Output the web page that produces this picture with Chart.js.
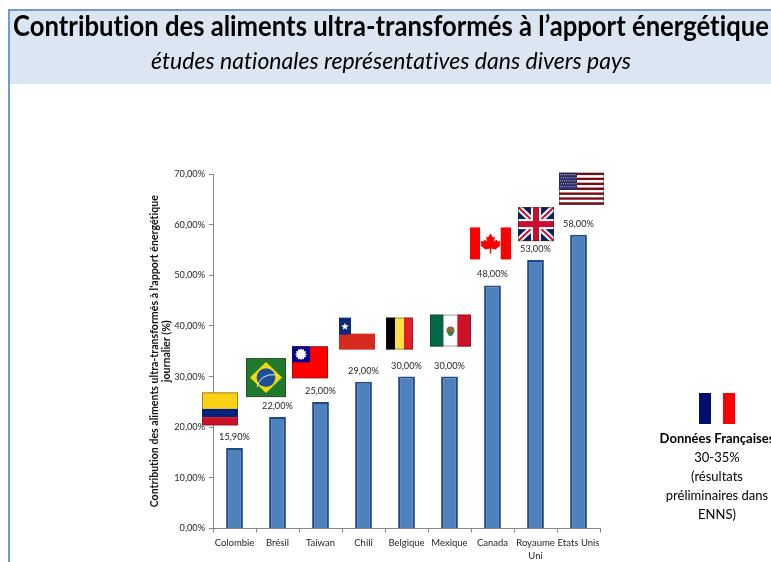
<!DOCTYPE html>
<html lang="fr">
<head>
<meta charset="utf-8">
<title>Contribution des aliments ultra-transformés</title>
<script src="https://cdn.jsdelivr.net/npm/chart.js@4/dist/chart.umd.min.js"></script>
<style>
  html, body { margin: 0; padding: 0; background: #fff; overflow: hidden; }
  #page { position: relative; width: 771px; height: 562px; overflow: hidden; font-family: Lato, sans-serif; color: #000; font-variant-ligatures: none; }
  #chart { position: absolute; left: 0; top: 0; }
  #band { position: absolute; left: 8px; top: 9px; width: 763px; height: 75px; background: #dce6f2; border-top: 2px solid #6f9bd0; box-sizing: border-box; }
  #rule { position: absolute; left: 8px; top: 9px; width: 2px; height: 553px; background: #6f9bd0; }
  .line { position: absolute; white-space: nowrap; text-align: center; transform-origin: center center; }
  #title { left: -59px; width: 900px; top: 7px; font-size: 27px; font-weight: 700; line-height: 36px; transform: scale(0.95, 1.08); }
  #subtitle { left: -59px; width: 900px; top: 45px; font-size: 23px; font-style: italic; line-height: 30px; }
  #note { position: absolute; left: 652px; width: 130px; top: 429px; text-align: center; font-size: 13px; line-height: 19px; }
  #note b { font-weight: 700; }
</style>
</head>
<body>
<div id="page">
  <canvas id="chart" width="771" height="562"></canvas>
  <div id="band"></div>
  <div id="rule"></div>
  <div class="line" id="title">Contribution des aliments ultra-transformés à l’apport énergétique</div>
  <div class="line" id="subtitle">études nationales représentatives dans divers pays</div>
  <div id="note"><b>Données Françaises</b><br>30-35%<br>(résultats<br>préliminaires dans<br>ENNS)</div>
</div>
<script>
// countries along the x axis
var countries = ["Colombie", "Brésil", "Taiwan", "Chili", "Belgique", "Mexique", "Canada", ["Royaume", "Uni"], "Etats Unis"];
// share of energy intake, in %
var shares = [15.9, 22, 25, 29, 30, 30, 48, 53, 58];
var yTicks = [0, 10, 20, 30, 40, 50, 60, 70];
var flagNames = ["co", "br", "tw", "cl", "be", "mx", "ca", "gb", "us"];

// flag placement relative to its bar: dx from bar centre, gap above bar top, width, height
var flagPlacement = {
    co: [-14.5, 22.6, 36, 33],
    br: [-11.5, 20, 40, 39],
    tw: [-10.5, 23.6, 36, 32],
    cl: [-6.5, 32, 36, 32],
    be: [-7, 27, 27, 32],
    mx: [1, 30, 41, 32],
    ca: [-2, 26, 41, 32],
    gb: [0.5, 19, 36, 34],
    us: [3, 30, 45, 32]
};

function fmt(v){
    return v.toFixed(2).replace(".", ",") + "%";
}

function stripes(ctx, x, y, w, h, colors, vertical){
    for(var i = 0; i < colors.length; i++){
        ctx.fillStyle = colors[i];
        if(vertical){
            ctx.fillRect(x + w * i / colors.length, y, w / colors.length, h);
        } else {
            ctx.fillRect(x, y + h * i / colors.length, w, h / colors.length);
        }
    }
}

function poly(ctx, pts, color){
    ctx.fillStyle = color;
    ctx.beginPath();
    pts.forEach(function(p, i){
        if(i == 0) ctx.moveTo(p[0], p[1]); else ctx.lineTo(p[0], p[1]);
    });
    ctx.closePath();
    ctx.fill();
}

function circle(ctx, x, y, r, color){
    ctx.fillStyle = color;
    ctx.beginPath();
    ctx.arc(x, y, r, 0, Math.PI * 2);
    ctx.fill();
}

function star(c, x, y, r, color, points, inner){
    var pts = [];
    var n = points || 5;
    for(var i = 0; i < n * 2; i++){
        var a = -Math.PI / 2 + i * Math.PI / n;
        var q = i % 2 ? r * (inner || 0.42) : r;
        pts.push([x + q * Math.cos(a), y + q * Math.sin(a)]);
    }
    poly(c, pts, color);
}

// each flag is drawn into its own box
var flags = {
    co: function(c, x, y, w, h){
        c.fillStyle = "#fcd116"; c.fillRect(x, y, w, h / 2);
        c.fillStyle = "#00247d"; c.fillRect(x, y + h / 2, w, h / 4);
        c.fillStyle = "#ce1126"; c.fillRect(x, y + h * 3 / 4, w, h / 4);
    },
    br: function(c, x, y, w, h){
        c.fillStyle = "#1f7a2e"; c.fillRect(x, y, w, h);
        poly(c, [[x + w / 2, y + 4], [x + w - 4, y + h / 2], [x + w / 2, y + h - 4], [x + 4, y + h / 2]], "#f5d90a");
        circle(c, x + w / 2, y + h / 2, h * 0.24, "#1c4f96");
        c.strokeStyle = "#e8eef5"; c.lineWidth = 1;
        c.beginPath();
        c.arc(x + w / 2 + 6, y + h / 2 + 12, 15, Math.PI * 1.05, Math.PI * 1.6);
        c.stroke();
    },
    tw: function(c, x, y, w, h){
        c.fillStyle = "#fe0000"; c.fillRect(x, y, w, h);
        c.fillStyle = "#000095"; c.fillRect(x, y, w / 2, h / 2);
        star(c, x + w / 4, y + h / 4, 6, "#fff", 12, 0.72);
    },
    cl: function(c, x, y, w, h){
        c.fillStyle = "#fff"; c.fillRect(x, y, w, h / 2);
        c.fillStyle = "#d52b1e"; c.fillRect(x, y + h / 2, w, h / 2);
        c.fillStyle = "#0a2a7a"; c.fillRect(x, y, w / 3, h / 2 + 1);
        star(c, x + w / 6, y + h / 4 + 1, 4, "#fff");
    },
    be: function(c, x, y, w, h){
        stripes(c, x, y, w, h, ["#000", "#fae042", "#e21f26"], true);
    },
    mx: function(c, x, y, w, h){
        stripes(c, x, y, w, h, ["#006847", "#fff", "#ce1126"], true);
        circle(c, x + w / 2, y + h / 2, 4, "#8a6a3a");
        circle(c, x + w / 2, y + h / 2 + 3, 2.5, "#3d7a4f");
    },
    ca: function(c, x, y, w, h){
        stripes(c, x, y, w, h, ["#f00", "#fff", "#fff", "#f00"], true);
        var cx = x + w / 2, cy = y + h / 2;
        poly(c, [[cx, cy - 10], [cx + 2.5, cy - 6], [cx + 4.5, cy - 7], [cx + 3.5, cy - 2], [cx + 6, cy - 4], [cx + 7, cy - 2], [cx + 10, cy - 2.5], [cx + 9, cy + 1], [cx + 10, cy + 2], [cx + 5, cy + 6], [cx + 0.7, cy + 5], [cx + 0.7, cy + 10], [cx - 0.7, cy + 10], [cx - 0.7, cy + 5], [cx - 5, cy + 6], [cx - 10, cy + 2], [cx - 9, cy + 1], [cx - 10, cy - 2.5], [cx - 7, cy - 2], [cx - 6, cy - 4], [cx - 3.5, cy - 2], [cx - 4.5, cy - 7], [cx - 2.5, cy - 6]], "#f00");
    },
    gb: function(c, x, y, w, h){
        c.fillStyle = "#10205a"; c.fillRect(x, y, w, h);
        c.save();
        c.beginPath(); c.rect(x, y, w, h); c.clip();
        c.strokeStyle = "#fff"; c.lineWidth = 6;
        c.beginPath(); c.moveTo(x, y); c.lineTo(x + w, y + h); c.moveTo(x + w, y); c.lineTo(x, y + h); c.stroke();
        c.strokeStyle = "#c8102e"; c.lineWidth = 2;
        c.beginPath(); c.moveTo(x, y); c.lineTo(x + w, y + h); c.moveTo(x + w, y); c.lineTo(x, y + h); c.stroke();
        c.restore();
        c.fillStyle = "#fff";
        c.fillRect(x + w / 2 - 5, y, 10, h);
        c.fillRect(x, y + h / 2 - 5, w, 10);
        c.fillStyle = "#c8102e";
        c.fillRect(x + w / 2 - 3, y, 6, h);
        c.fillRect(x, y + h / 2 - 3, w, 6);
    },
    us: function(c, x, y, w, h){
        var rows = ["#7a0a14", "#fff", "#7a0a14", "#fff", "#7a0a14", "#fff", "#7a0a14", "#fff", "#7a0a14", "#fff", "#7a0a14", "#fff", "#7a0a14"];
        stripes(c, x, y, w, h, rows, false);
        c.fillStyle = "#2b2a66"; c.fillRect(x, y, w * 0.4, h * 7 / 13);
        c.fillStyle = "#c9c9de";
        for(var i = 0; i < 8; i++){
            for(var j = 0; j < 5; j++){
                c.fillRect(x + 1 + i * 2.1 + (j % 2), y + 1.5 + j * 3, 1, 1);
            }
        }
    },
    fr: function(c, x, y, w, h){
        stripes(c, x, y, w, h, ["#000f70", "#fff", "#f00"], true);
    }
};

function drawFlag(ctx, name, x, y, w, h){
    ctx.save();
    flags[name](ctx, x, y, w, h);
    // soft shaded edge like the pasted pictures
    ctx.strokeStyle = "rgba(60,30,30,0.45)";
    ctx.lineWidth = 1;
    if(name != "fr" && name != "ca" && name != "cl") ctx.strokeRect(x + 0.5, y + 0.5, w - 1, h - 1);
    ctx.restore();
}

// value labels above the bars plus the flags
var decorations = {
    id: "decorations",
    afterDatasetsDraw: function(chart){
        var ctx = chart.ctx;
        var bars = chart.getDatasetMeta(0).data;
        ctx.save();
        ctx.font = "9.2px Lato, sans-serif";
        ctx.fillStyle = "#262626";
        ctx.textAlign = "center";
        ctx.textBaseline = "middle";
        bars.forEach(function(bar, i){
            ctx.fillText(fmt(shares[i]), bar.x, bar.y - 11);
        });
        ctx.restore();
        bars.forEach(function(bar, i){
            var name = flagNames[i];
            var p = flagPlacement[name];
            drawFlag(ctx, name, bar.x + p[0] - p[2] / 2, bar.y - p[1] - p[3], p[2], p[3]);
        });
        // French flag belongs to the side note
        drawFlag(ctx, "fr", 699, 393, 36, 31);
    }
};

var chart = new Chart("chart", {
    type: "bar",
    plugins: [decorations],
    data: {
        labels: countries,
        datasets: [
            {
                data: shares,
                backgroundColor: "#4f81bd",
                borderColor: "#1f4a87",
                borderWidth: 2,
                barPercentage: 0.78,
                categoryPercentage: 0.5
            }
        ]
    },
    options: {
        responsive: false,
        animation: false,
        layout: { padding: { left: 148, top: 174, right: 171, bottom: 0 } },
        plugins: {
            legend: { display: false },
            tooltip: { enabled: false },
            title: { display: false }
        },
        scales: {
            x: {
                afterFit: function(axis){ axis.height = 33.5; },
                grid: { drawOnChartArea: false, color: "#868686", tickLength: 4, offset: true },
                border: { color: "#868686" },
                ticks: {
                    color: "#262626",
                    font: { family: "Lato, sans-serif", size: 9.5, lineHeight: 1.35 },
                    maxRotation: 0,
                    autoSkip: false,
                    padding: 4
                }
            },
            y: {
                min: 0,
                max: 70,
                afterBuildTicks: function(axis){
                    axis.ticks = yTicks.map(function(v){ return { value: v }; });
                },
                afterFit: function(axis){ axis.width = 65; },
                grid: { drawOnChartArea: false, color: "#868686", tickLength: 4 },
                border: { color: "#868686" },
                ticks: {
                    color: "#262626",
                    font: { family: "Lato, sans-serif", size: 9.2 },
                    padding: 4,
                    callback: function(v){ return fmt(v); }
                },
                title: {
                    display: true,
                    text: ["Contribution des aliments ultra-transformés à l'apport énergétique", "journalier (%)"],
                    color: "#111",
                    font: { family: "Lato, sans-serif", size: 10.6, weight: "bold", lineHeight: 1.15 },
                    padding: 0
                }
            }
        }
    }
});
</script>
</body>
</html>
